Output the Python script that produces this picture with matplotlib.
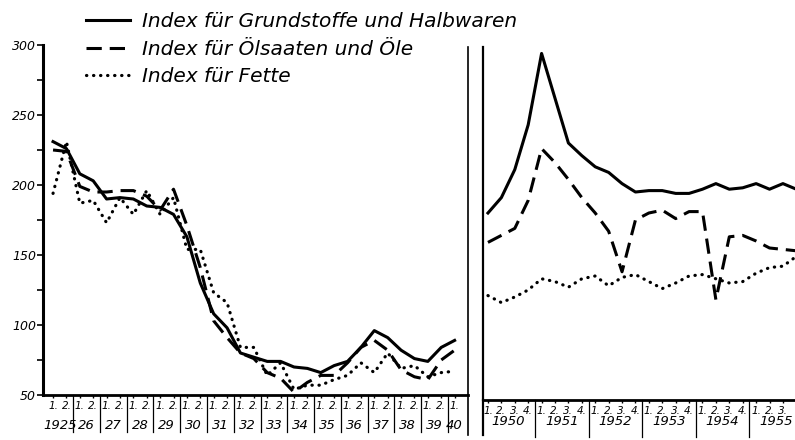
import matplotlib.pyplot as plt
import matplotlib.transforms as mtransforms

# Halbjahreswerte 1925 - 1940 (1. Halbjahr)
half_labels = ["1.", "2."] * 15 + ["1."]
half_years = ["1925", "26", "27", "28", "29", "30", "31", "32", "33", "34",
              "35", "36", "37", "38", "39", "40"]
grund_1 = [231, 226, 208, 203, 190, 191, 190, 185, 184, 179, 163, 130, 108, 98, 80,
           77, 74, 74, 70, 69, 66, 71, 74, 84, 96, 91, 82, 76, 74, 84, 89]
oel_1 = [225, 224, 199, 195, 195, 196, 196, 192, 182, 197, 171, 141, 103, 91, 80,
         76, 66, 62, 52, 59, 64, 64, 73, 84, 89, 82, 68, 63, 61, 75, 82]
fette_1 = [194, 231, 187, 189, 173, 191, 179, 196, 179, 191, 154, 154, 123, 116, 84,
           84, 64, 73, 54, 57, 57, 61, 64, 73, 66, 80, 69, 71, 63, 66, 67]

# Vierteljahreswerte 1950 - 1955
quarter_labels = ["1.", "2.", "3.", "4."] * 6
quarter_years = ["1950", "1951", "1952", "1953", "1954", "1955"]
grund_2 = [180, 191, 211, 243, 294, 262, 230, 221, 213, 209, 201, 195,
           196, 196, 194, 194, 197, 201, 197, 198, 201, 197, 201, 197]
oel_2 = [159, 164, 169, 189, 226, 216, 204, 191, 180, 167, 138, 175,
         180, 182, 176, 181, 181, 118, 163, 164, 160, 155, 154, 153]
fette_2 = [121, 116, 120, 125, 133, 131, 127, 133, 135, 128, 134, 136,
           131, 126, 130, 135, 136, 133, 130, 131, 137, 141, 142, 149]

legend_labels = ["Index für Grundstoffe und Halbwaren",
                 "Index für Ölsaaten und Öle",
                 "Index für Fette"]

plt.rcParams['font.family'] = ['DejaVu Sans']
plt.rcParams['font.style'] = 'italic'

styles = [dict(ls='-', lw=2.2),
          dict(ls=(0, (5, 2.6)), lw=2.2),
          dict(ls=(0, (0.1, 2.1)), lw=2.3, dash_capstyle='round')]

fig = plt.figure(figsize=(7.95, 4.4), dpi=100)
ax1 = fig.add_axes([43 / 795, 1 - 395 / 440, 425 / 795, 350 / 440])
ax2 = fig.add_axes([483 / 795, 1 - 400 / 440, 312 / 795, 353 / 440])


def draw_panel(ax, series, tick_labels, years, per_year, year_y):
    x = list(range(len(series[0])))
    lines = []
    for ys, st in zip(series, styles):
        ln, = ax.plot(x, ys, color='black', **st)
        lines.append(ln)
    ax.set_xticks(x)
    ax.set_xticklabels(tick_labels, fontsize=7.5)
    ax.tick_params(axis='x', length=2.5, width=1, pad=2)
    ax.spines['top'].set_visible(False)
    ax.spines['bottom'].set_linewidth(2)
    trans = mtransforms.blended_transform_factory(ax.transData, ax.transAxes)
    # Jahresfelder mit Trennstrichen
    for k, yr in enumerate(years):
        start = k * per_year
        n = min(per_year, len(x) - start)
        ax.text(start + (n - 1) / 2, year_y, yr, transform=trans,
                ha='center', va='center', fontsize=9.5)
        if k > 0:
            ax.plot([start - 0.5, start - 0.5], [0, -0.105], transform=trans,
                    color='black', lw=0.9, clip_on=False)
    return lines


lines = draw_panel(ax1, [grund_1, oel_1, fette_1], half_labels, half_years, 2, -0.086)
draw_panel(ax2, [grund_2, oel_2, fette_2], quarter_labels, quarter_years, 4, -0.062)

# linkes Feld
ax1.set_xlim(-0.75, 31.0)
ax1.set_ylim(50, 300)
ax1.set_yticks([50, 100, 150, 200, 250, 300])
ax1.set_yticks(range(75, 300, 50), minor=True)
ax1.tick_params(axis='y', which='both', length=4, width=1.2, labelsize=9, pad=1)
ax1.spines['left'].set_linewidth(2.2)
ax1.spines['right'].set_linewidth(1.2)
ax1.spines['right'].set_bounds(50, 298.5)
ax1.plot([1, 1], [0, -0.115], transform=ax1.transAxes, color='black', lw=1.2, clip_on=False)

# rechtes Feld
ax2.set_xlim(-0.37, 22.9)
ax2.set_ylim(46.4, 298.6)
ax2.set_yticks([])
ax2.spines['right'].set_visible(False)
ax2.spines['left'].set_linewidth(1.6)
ax2.plot([0, 0], [0, -0.1], transform=ax2.transAxes, color='black', lw=1.6, clip_on=False)

fig.legend(lines, legend_labels, loc='upper left', bbox_to_anchor=(72 / 795, 1 + 2 / 440),
           frameon=False, fontsize=14.5, handlelength=2.2, handletextpad=0.6,
           labelspacing=0.42, borderpad=0.2)

fig.savefig("out.png", dpi=100)
